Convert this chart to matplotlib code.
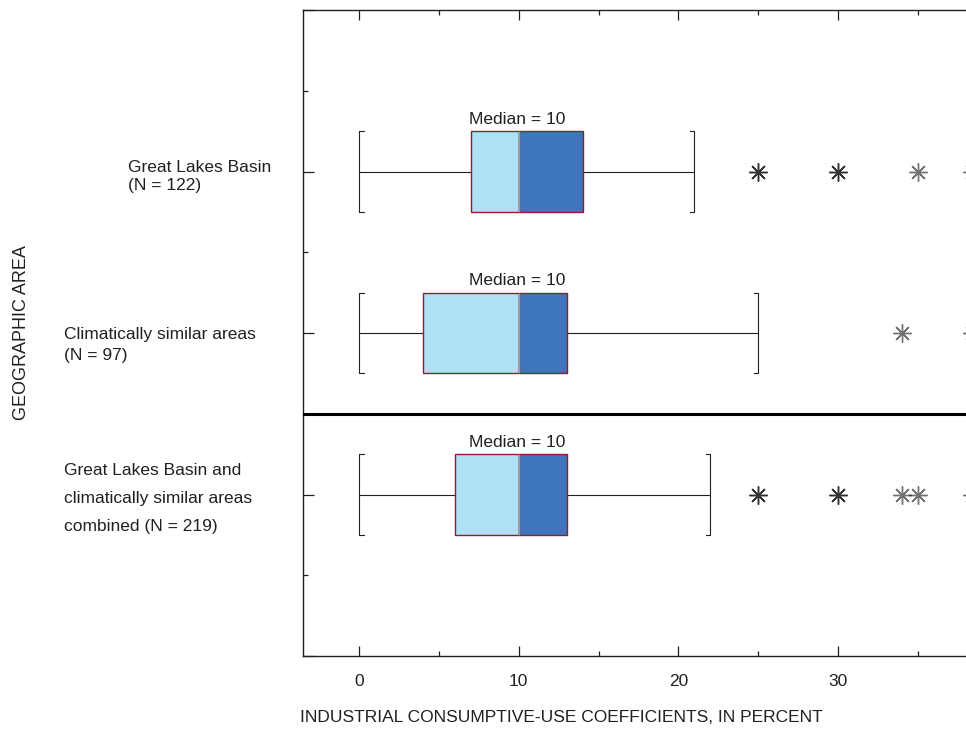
import matplotlib
matplotlib.use("Agg")
import matplotlib.pyplot as plt
from matplotlib.ticker import MultipleLocator

plt.rcParams['font.family'] = ['Liberation Sans', 'DejaVu Sans']

# data
rows = [3, 2, 1]
labels = ["Great Lakes Basin\n(N = 122)",
          "Climatically similar areas\n(N = 97)",
          "Great Lakes Basin and\nclimatically similar areas\ncombined (N = 219)"]
lower = [0, 0, 0]
q1 = [7, 4, 6]
median = [10, 10, 10]
q3 = [14, 13, 13]
upper = [21, 25, 22]
# repeated values are overlapping points (drawn darker)
outliers = [[25, 25, 30, 30, 35, 38.4],
            [34, 38.4],
            [25, 25, 30, 30, 34, 35, 38.4]]

# label placement (axes-fraction x, data-unit y shift, line spacing)
label_x = [-0.264, -0.3605, -0.3605]
label_dy = [-0.03, -0.075, -0.025]
label_spacing = [1.3, 1.45, 2.1]

light = '#afe0f6'
dark = '#3f75bb'
edge = '#8c1f2c'
ink = '#231f20'
fs = 12.5

fig = plt.figure(figsize=(9.66, 7.33), dpi=100)
ax = fig.add_axes([303 / 966, 1 - 656 / 733, 1 - 303 / 966, (656 - 10) / 733])

box_h = 0.5
serif = 0.3
for i, y in enumerate(rows):
    # whiskers
    ax.hlines(y, lower[i], q1[i], color=ink, lw=0.8, zorder=2)
    ax.hlines(y, q3[i], upper[i], color=ink, lw=0.8, zorder=2)
    # bracket caps
    ax.plot([lower[i] + serif, lower[i], lower[i], lower[i] + serif],
            [y - box_h / 2, y - box_h / 2, y + box_h / 2, y + box_h / 2],
            color=ink, lw=0.8, zorder=2)
    ax.plot([upper[i] - serif, upper[i], upper[i], upper[i] - serif],
            [y - box_h / 2, y - box_h / 2, y + box_h / 2, y + box_h / 2],
            color=ink, lw=0.8, zorder=2)
    # box halves
    ax.barh(y, median[i] - q1[i], left=q1[i], height=box_h, color=light,
            edgecolor=edge, lw=1.0, zorder=3)
    ax.barh(y, q3[i] - median[i], left=median[i], height=box_h, color=dark,
            edgecolor=edge, lw=1.0, zorder=3)
    ax.vlines(median[i], y - box_h / 2, y + box_h / 2, color='#9a9a9a', lw=0.9, zorder=4)
    ax.annotate(f"Median = {median[i]}", (median[i], y + box_h / 2),
                xytext=(-1, 3), textcoords='offset points',
                ha='center', va='bottom', fontsize=fs, color=ink)
    # outliers
    ax.plot(outliers[i], [y] * len(outliers[i]), ls='none', marker=(8, 2, 0),
            ms=13, mew=1.0, color='black', alpha=0.55, zorder=5)
    # row label
    ax.text(label_x[i], y + label_dy[i], labels[i], transform=ax.get_yaxis_transform(),
            ha='left', va='center', fontsize=fs, color=ink,
            linespacing=label_spacing[i])

# divider between individual areas and combined
ax.axhline(1.5, color='black', lw=2.2, zorder=6)

ax.set_xlim(-3.5, 38)
ax.set_ylim(0, 4)
ax.xaxis.set_major_locator(MultipleLocator(10))
ax.xaxis.set_minor_locator(MultipleLocator(5))
ax.yaxis.set_major_locator(MultipleLocator(1))
ax.yaxis.set_minor_locator(MultipleLocator(0.5))
ax.set_yticklabels([])
ax.tick_params(which='both', direction='in', top=True, right=False,
               color=ink, width=0.9)
ax.tick_params(which='major', length=7.5, labelsize=fs, labelcolor=ink, pad=13)
ax.tick_params(which='minor', length=3.6)
ax.tick_params(axis='y', which='major', length=8)

for side in ['left', 'bottom', 'top']:
    ax.spines[side].set_linewidth(1.0)
    ax.spines[side].set_color(ink)
ax.spines['right'].set_visible(False)

fig.text(561 / 966, 1 - 718 / 733, "INDUSTRIAL CONSUMPTIVE-USE COEFFICIENTS, IN PERCENT",
         ha='center', va='center', fontsize=12.5, color=ink)
fig.text(22 / 966, 1 - 333 / 733, "GEOGRAPHIC AREA", rotation=90,
         ha='center', va='center', fontsize=13, color=ink)

fig.savefig("out.png", dpi=100, facecolor='white')
